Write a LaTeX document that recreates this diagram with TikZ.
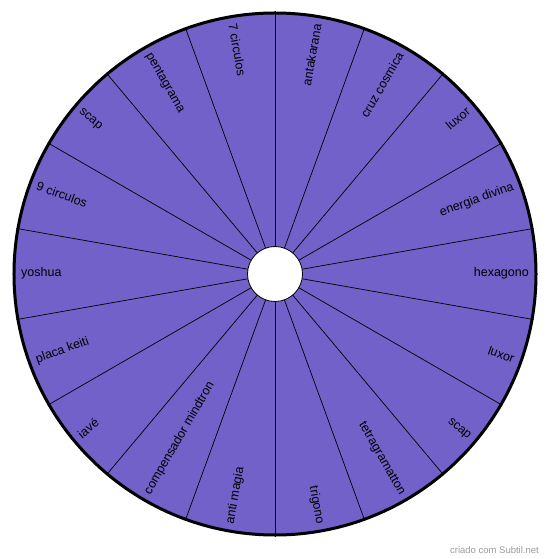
\documentclass[tikz,border=0pt]{standalone}
\usepackage{fontspec}
\setmainfont{Liberation Sans}
\usetikzlibrary{positioning}
\definecolor{wheelfill}{HTML}{7161C9}
\definecolor{creditgrey}{HTML}{9A9A9A}
\tikzset{
  rimcircle/.style={circle, draw=black, line width=3pt, fill=wheelfill,
                    minimum size=522pt, inner sep=0pt},
  hubcircle/.style={circle, draw=black, line width=0.8pt, fill=white,
                    minimum size=55pt, inner sep=0pt},
  spoke/.style={draw=black, line width=0.7pt},
  seglabel/.style={inner sep=0pt, font=\fontsize{12.5}{14}\selectfont, text=black},
  credit/.style={inner sep=0pt, font=\fontsize{9.5}{11}\selectfont, text=creditgrey}}

\begin{document}
\begin{tikzpicture}[x=1pt, y=1pt]
  \useasboundingbox (-275,-285) rectangle (275,274);
  \node[rimcircle] (rim) at (0,0) {};
  % spokes between the sectors
  \foreach \a in {90,70,...,-250}
    \draw[spoke] (0,0) -- (rim.\a);
  \node[hubcircle] (hub) at (0,0) {};
  % labels of the right half
  \foreach \a/\t in {80/antakarana, 60/cruz cosmica, 40/luxor, 20/energia divina,
                     0/hexagono, -20/luxor, -40/scap, -60/tetragramatton, -80/trigono}
    \node[seglabel, anchor=mid east, rotate=\a] (lbl\a) at (\a:254) {\t};
  % labels of the left half
  \foreach \a/\t in {100/7 circulos, 120/pentagrama, 140/scap, 160/9 circulos,
                     180/yoshua, 200/placa keiti, 220/iavé, 240/compensador mindtron,
                     260/anti magia}
    \node[seglabel, anchor=mid west, rotate=\a-180] (lbl\a) at (\a:254) {\t};
  \node[credit, anchor=east] (by) at (264,-276) {criado com Subtil.net};
\end{tikzpicture}
\end{document}
